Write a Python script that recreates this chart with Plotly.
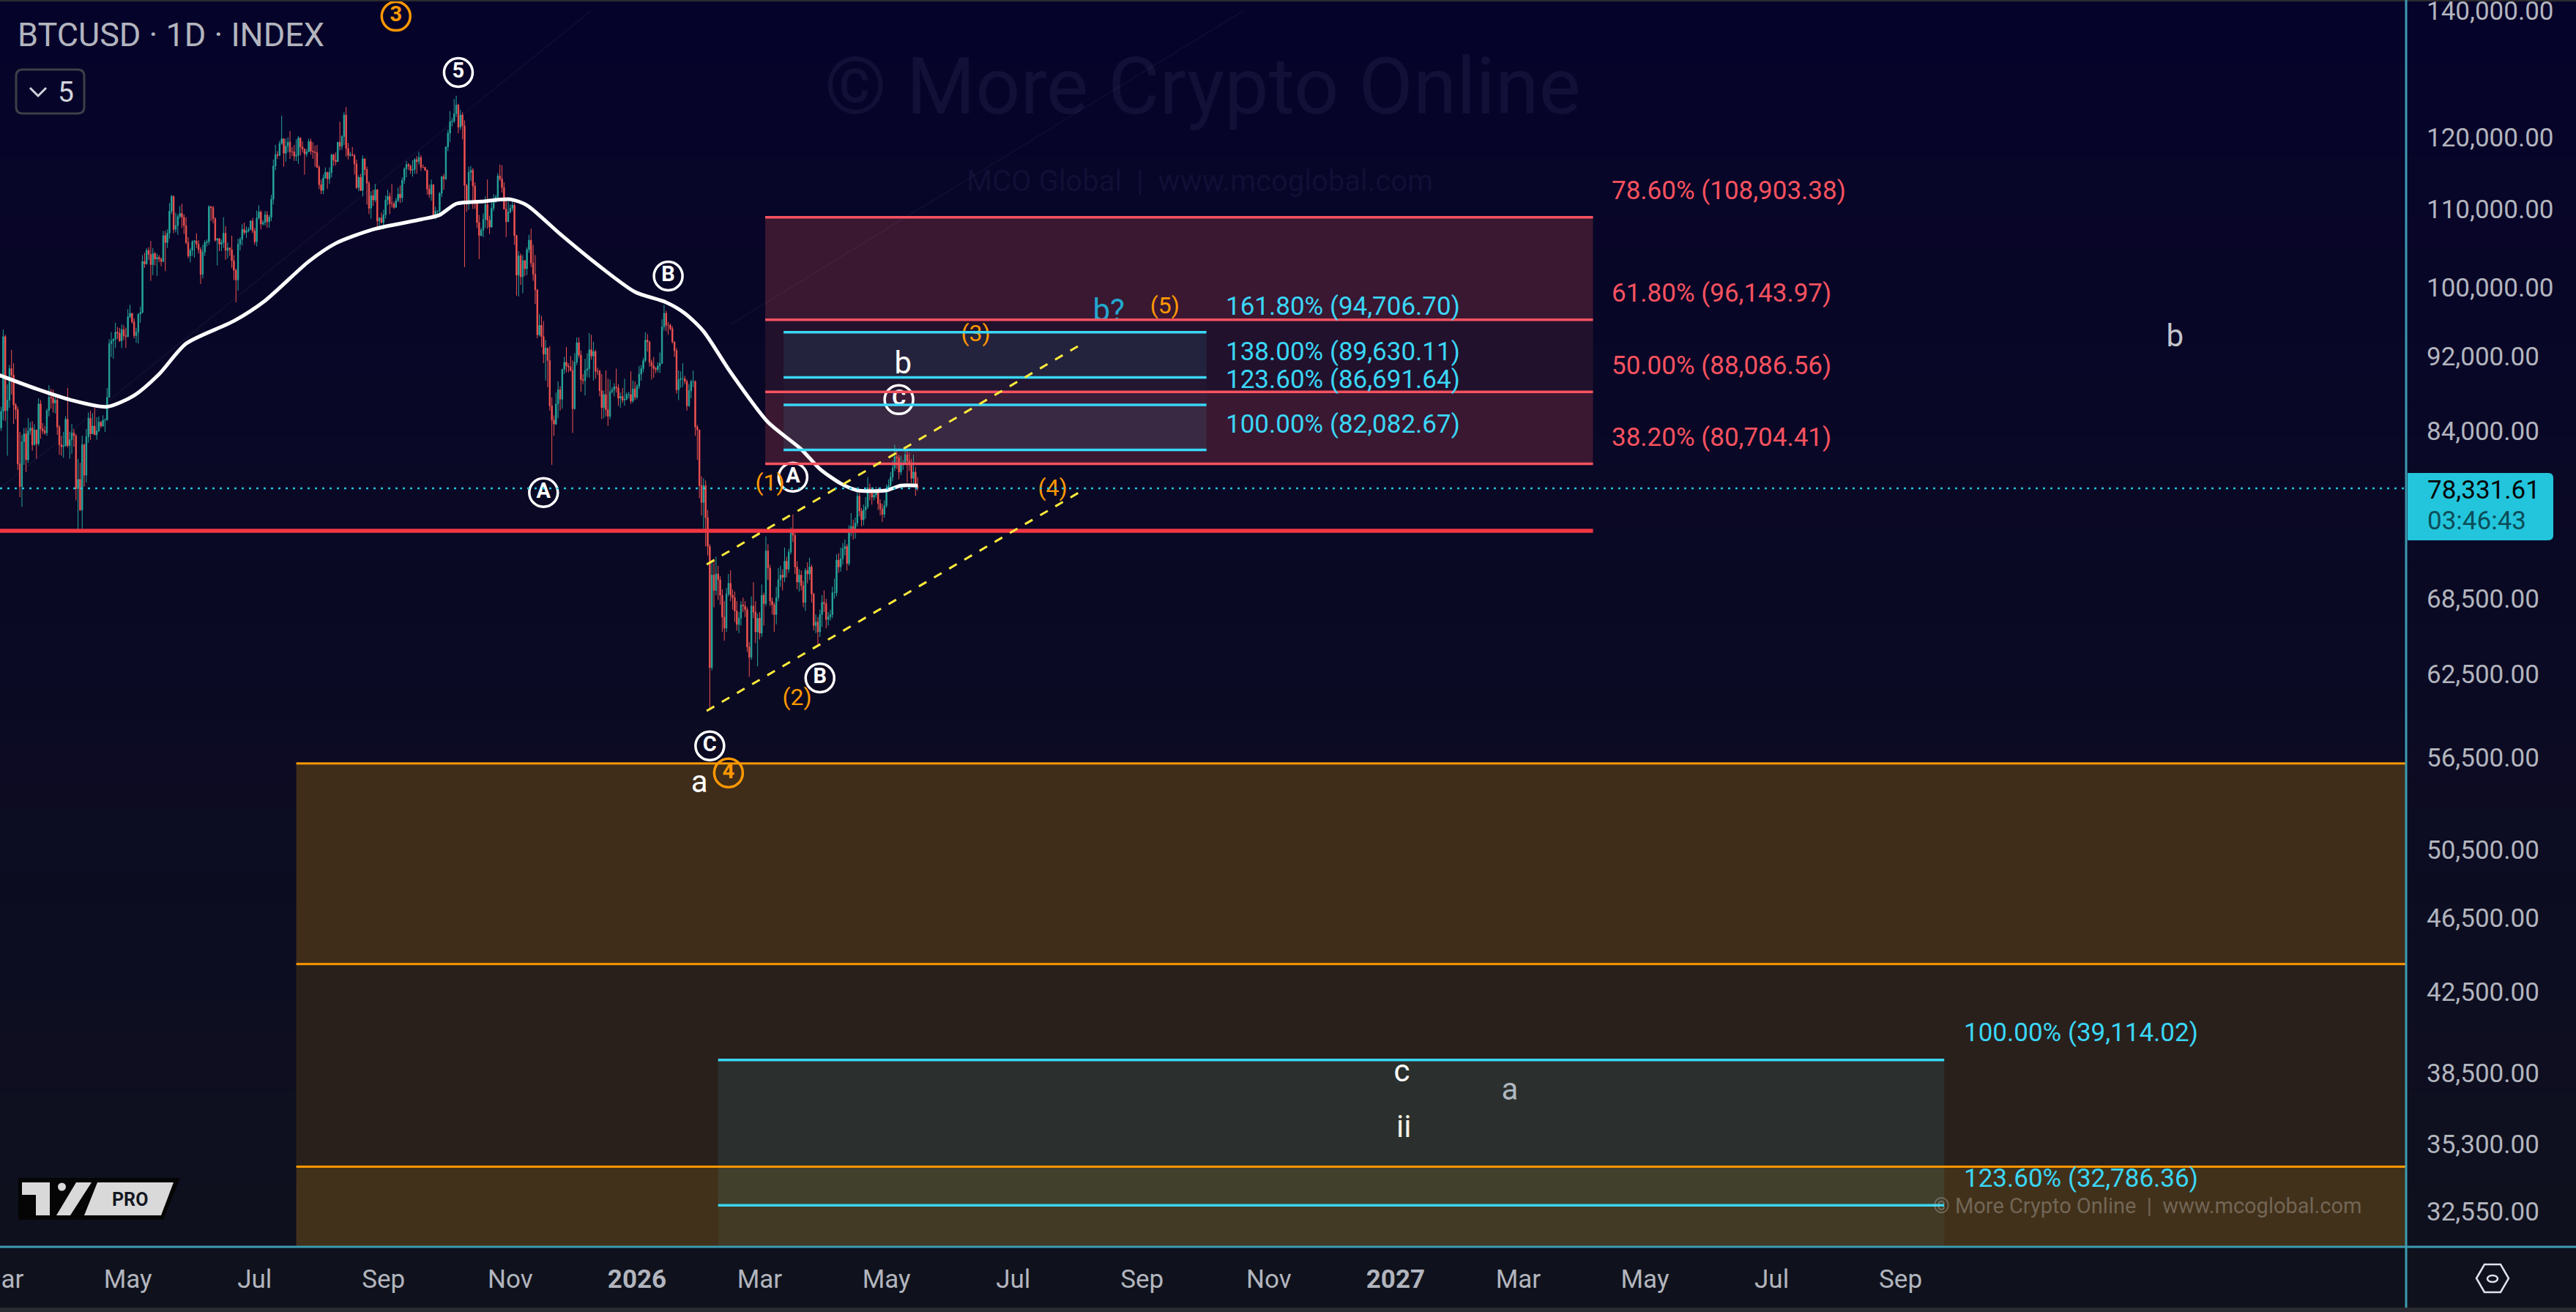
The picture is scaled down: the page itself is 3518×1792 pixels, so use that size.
import math
import pandas as pd
import plotly.graph_objects as go

FIG_W, FIG_H = 3518, 1792
PLOT_W, PLOT_H = 3286, 1703
FONT = "Roboto"

# ------------------------------------------------------------------ data
candle_start = "2025-02-27"
first_open_k = 84.7
close_k = [
    84.4, 84.3,
    86.0, 94.2, 86.1, 87.2, 90.6, 89.9, 86.7, 86.2, 80.7, 78.5, 82.9, 83.7, 81.1, 84.0, 84.3, 82.6, 84.1, 82.7, 86.8, 84.2, 84.0, 83.8, 86.1, 87.5, 87.4, 86.9, 87.2, 84.4, 82.6, 82.4, 82.5,
    85.2, 82.5, 83.1, 83.8, 83.5, 78.3, 79.2, 76.3, 82.6, 79.6, 83.4, 85.3, 83.7, 84.5, 83.6, 84.0, 84.9, 84.5, 85.1, 85.1, 87.5, 93.4, 93.7, 93.9, 94.7, 94.6, 93.7, 95.0, 94.3, 94.2,
    96.5, 96.9, 95.9, 94.3, 94.7, 96.8, 97.0, 103.2, 102.9, 104.6, 104.1, 102.8, 104.2, 103.5, 103.7, 103.5, 103.2, 106.5, 105.6, 106.8, 109.7, 111.7, 107.3, 107.8, 109.0, 109.4, 108.9, 107.8, 105.6, 103.9, 104.6,
    105.7, 105.8, 105.4, 104.7, 101.6, 104.4, 105.6, 105.7, 110.3, 110.2, 108.7, 105.9, 106.1, 105.4, 105.6, 106.8, 104.6, 104.9, 104.7, 103.3, 102.1, 100.9, 105.4, 106.0, 107.3, 106.9, 107.1, 107.3, 108.4, 107.1,
    105.7, 108.8, 109.6, 108.0, 108.2, 109.2, 108.3, 108.9, 111.3, 115.9, 117.5, 117.4, 119.1, 119.8, 117.7, 118.7, 119.3, 117.9, 117.9, 117.3, 117.4, 119.9, 118.6, 118.3, 117.6, 117.9, 119.4, 118.0, 117.9, 117.8, 115.7,
    113.3, 112.5, 114.2, 115.0, 114.1, 115.0, 117.5, 116.7, 116.5, 119.3, 118.7, 120.1, 123.3, 118.4, 117.4, 117.5, 117.4, 116.2, 112.9, 114.3, 112.5, 116.9, 115.4, 113.5, 110.1, 111.8, 111.2, 112.6, 108.4, 108.8, 108.2,
    109.2, 111.2, 111.7, 110.7, 110.7, 110.2, 111.1, 112.0, 111.5, 113.9, 115.5, 116.1, 115.9, 115.3, 115.4, 116.8, 116.5, 117.1, 115.7, 115.7, 115.3, 112.7, 112.0, 113.3, 109.0, 109.7, 109.7, 112.1, 114.4, 114.1,
    118.6, 120.6, 122.3, 122.4, 123.5, 124.8, 121.5, 123.3, 121.7, 113.2, 110.7, 115.0, 115.3, 113.1, 110.8, 108.2, 106.5, 107.2, 108.6, 110.6, 108.5, 107.6, 110.1, 111.0, 111.6, 114.5, 114.1, 112.9, 110.0, 108.3, 109.6,
    110.1, 110.5, 106.5, 101.5, 103.9, 101.3, 103.3, 102.3, 104.7, 105.9, 103.0, 101.6, 99.7, 94.4, 95.5, 94.2, 92.2, 92.9, 91.5, 86.6, 85.1, 84.7, 86.8, 88.3, 87.3, 90.5, 91.3, 90.9, 90.8, 90.4,
    86.3, 91.3, 93.5, 92.1, 89.4, 89.3, 90.4, 90.6, 92.7, 92.0, 92.5, 90.3, 90.3, 88.2, 86.4, 87.8, 86.2, 85.5, 88.1, 88.3, 88.6, 88.5, 87.4, 87.6, 87.2, 87.3, 87.8, 87.8, 87.1, 88.4, 87.5,
    88.7, 90.0, 90.6, 91.5, 93.8, 93.6, 91.3, 90.9, 90.6, 90.5, 90.9, 91.2, 95.3, 96.9, 95.5, 95.5, 95.1, 93.6, 92.6, 88.3, 89.4, 89.5, 89.5, 89.2, 86.6, 88.2, 89.2, 89.2, 84.4, 84.1, 78.6,
    77.0, 78.6, 75.6, 73.0, 63.0, 70.5, 69.2, 70.6, 70.1, 68.8, 67.0, 66.1, 68.9, 69.8, 68.8, 68.6, 67.5, 66.4, 66.9, 68.0, 67.9, 67.6, 64.6, 63.8, 67.9, 67.4, 65.8, 66.9,
    65.7, 68.8, 68.1, 72.6, 71.1, 68.3, 68.0, 67.2, 68.6, 70.1, 70.5, 70.3, 71.7, 71.0, 72.5, 74.3, 74.0, 71.2, 69.9, 70.5, 69.6, 68.2, 70.9, 70.6, 71.2, 68.9, 66.3, 66.6, 65.8, 67.2, 68.2,
    68.1, 66.8, 67.0, 67.2, 69.0, 69.0, 71.8, 71.2, 71.9, 72.8, 73.0, 71.5, 74.5, 74.8, 74.3, 75.1, 77.6, 76.2, 75.4, 76.3, 76.6, 78.4, 78.0, 77.5, 77.7, 78.1, 76.9, 76.4, 75.9, 76.7,
    78.3, 78.6, 79.4, 80.3, 81.4, 81.3, 79.9, 80.6, 80.8, 81.6, 81.0, 80.6, 79.3, 79.9, 78.6, 78.33161,
]
high_k = [
    87.0, 85.1,
    86.5, 95.0, 94.4, 88.9, 91.0, 92.7, 91.2, 86.9, 86.5, 83.9, 83.6, 84.3, 84.3, 85.3, 84.9, 85.0, 84.7, 84.1, 87.4, 87.2, 84.8, 84.5, 86.3, 88.8, 88.4, 88.3, 87.8, 87.5, 84.6, 83.5, 83.9,
    85.5, 88.5, 83.9, 84.7, 84.2, 83.7, 81.2, 80.8, 83.5, 82.7, 84.2, 85.9, 86.1, 85.8, 86.4, 85.4, 85.5, 85.0, 85.6, 85.3, 88.5, 93.9, 94.7, 94.0, 95.8, 95.3, 95.2, 95.6, 95.5, 95.2,
    97.4, 97.9, 96.9, 96.3, 95.2, 96.9, 97.7, 104.0, 104.3, 104.9, 105.0, 105.8, 104.9, 104.4, 104.2, 104.0, 103.7, 107.1, 107.1, 107.3, 110.8, 111.9, 111.8, 109.5, 109.3, 110.4, 110.7, 109.3, 108.9, 106.3, 104.9,
    105.9, 105.9, 106.8, 105.9, 105.0, 105.3, 105.9, 106.0, 110.5, 110.4, 110.4, 108.9, 106.2, 106.2, 106.0, 108.9, 107.7, 105.6, 105.0, 106.5, 104.0, 102.3, 106.1, 106.3, 108.0, 108.2, 107.7, 107.6, 108.5, 108.8,
    107.5, 109.8, 110.5, 109.8, 108.5, 109.7, 109.7, 109.2, 111.9, 116.8, 118.9, 118.0, 119.5, 123.2, 119.8, 119.8, 120.0, 120.9, 118.6, 118.9, 119.7, 120.2, 120.0, 119.4, 118.4, 118.3, 119.8, 119.8, 119.3, 118.8, 118.9,
    116.0, 114.0, 114.7, 115.7, 115.1, 115.7, 117.6, 117.6, 117.8, 119.3, 122.3, 120.3, 123.7, 124.5, 119.2, 117.9, 118.6, 117.6, 116.8, 114.6, 114.8, 117.4, 117.0, 115.8, 113.8, 112.4, 112.6, 113.4, 112.7, 108.9, 109.5,
    109.9, 111.8, 112.6, 112.2, 113.4, 111.0, 111.5, 112.9, 113.2, 114.3, 115.7, 116.6, 116.3, 116.1, 116.7, 117.0, 117.3, 117.9, 117.4, 116.1, 115.8, 115.4, 113.3, 114.0, 113.3, 110.3, 109.8, 112.3, 114.5, 114.8,
    118.7, 121.1, 123.9, 122.9, 125.7, 126.2, 125.0, 124.1, 123.7, 122.5, 113.4, 115.8, 115.9, 115.6, 113.6, 111.1, 109.2, 107.5, 109.4, 111.7, 114.0, 109.1, 111.3, 112.0, 111.9, 114.9, 116.1, 116.0, 113.6, 111.5, 111.2,
    110.6, 111.2, 110.8, 106.6, 104.5, 104.2, 104.0, 103.4, 105.0, 106.6, 107.4, 105.3, 104.0, 99.8, 96.8, 96.6, 96.0, 93.8, 92.9, 93.1, 87.5, 85.6, 88.0, 89.2, 88.7, 90.6, 91.9, 93.0, 91.2, 92.0,
    91.5, 92.3, 94.1, 94.1, 92.6, 90.0, 91.7, 92.3, 94.6, 94.4, 93.6, 92.7, 90.7, 90.5, 90.0, 88.2, 90.4, 89.5, 89.4, 88.6, 89.0, 90.6, 88.9, 88.0, 88.5, 89.5, 88.0, 88.1, 90.3, 89.3, 89.2,
    88.9, 90.9, 91.0, 91.8, 94.7, 94.5, 93.7, 91.6, 91.9, 90.8, 91.3, 92.4, 96.2, 97.9, 97.2, 95.9, 95.7, 95.4, 93.5, 92.9, 90.4, 90.3, 91.2, 89.8, 89.4, 88.9, 89.4, 90.4, 89.3, 84.6, 84.0,
    79.5, 79.3, 79.1, 76.3, 73.2, 71.6, 71.9, 72.1, 71.3, 70.4, 69.3, 68.3, 69.4, 70.6, 70.9, 69.3, 69.1, 68.3, 67.4, 68.3, 68.6, 68.3, 67.8, 65.0, 68.7, 69.9, 68.3, 67.3,
    67.4, 69.7, 69.0, 73.9, 73.2, 71.4, 68.6, 68.2, 69.5, 71.1, 71.3, 71.0, 72.9, 72.1, 72.8, 74.7, 75.9, 74.2, 71.7, 71.0, 70.9, 70.0, 71.1, 71.6, 72.0, 71.4, 69.0, 67.2, 67.0, 67.6, 68.8,
    69.2, 68.5, 67.4, 67.6, 69.5, 70.2, 72.3, 72.4, 72.9, 73.3, 73.6, 73.2, 74.9, 76.0, 75.4, 75.6, 78.4, 77.9, 76.5, 76.8, 77.5, 79.4, 78.8, 78.3, 78.0, 78.5, 78.4, 77.3, 76.9, 77.2,
    78.7, 79.2, 79.9, 81.0, 82.6, 82.1, 81.6, 81.5, 81.1, 82.3, 82.0, 81.8, 81.2, 81.6, 80.4, 79.4,
]
low_k = [
    82.7, 78.2,
    84.0, 85.1, 85.0, 81.5, 86.4, 87.8, 84.7, 85.2, 80.1, 77.5, 76.6, 80.6, 79.9, 80.8, 83.6, 82.0, 82.5, 81.2, 82.5, 83.2, 83.7, 83.6, 83.5, 85.5, 86.3, 85.9, 85.8, 83.6, 81.6, 81.5, 81.3,
    82.4, 82.3, 81.2, 81.7, 82.4, 77.2, 74.4, 76.2, 74.6, 78.5, 78.9, 82.8, 83.1, 83.7, 83.6, 83.1, 83.9, 84.3, 84.4, 83.9, 85.1, 87.5, 91.9, 91.7, 92.9, 93.9, 93.6, 92.9, 93.8, 92.9,
    94.1, 96.3, 95.7, 94.0, 93.5, 93.4, 95.8, 96.9, 102.4, 102.8, 103.4, 100.8, 101.5, 102.7, 101.4, 103.1, 102.6, 103.1, 102.0, 104.9, 106.1, 109.3, 106.8, 106.9, 106.6, 108.7, 107.5, 106.7, 105.4, 103.6, 103.1,
    103.9, 103.7, 104.9, 104.2, 100.4, 101.1, 103.9, 105.1, 105.3, 108.4, 108.1, 105.7, 102.7, 104.5, 104.5, 104.9, 103.4, 103.6, 103.9, 102.4, 100.9, 98.2, 99.6, 104.6, 105.2, 106.6, 106.2, 106.9, 107.2, 106.8,
    105.3, 105.1, 108.6, 107.3, 107.8, 107.8, 107.5, 107.5, 108.4, 110.6, 115.3, 116.9, 117.3, 118.9, 115.8, 116.5, 117.8, 116.9, 117.3, 116.6, 116.6, 116.2, 117.4, 117.8, 114.7, 117.2, 117.9, 117.5, 116.9, 115.8, 115.6,
    112.7, 112.0, 112.0, 114.1, 112.7, 113.4, 114.3, 115.9, 116.0, 116.5, 118.1, 118.2, 118.9, 117.2, 116.8, 117.2, 117.3, 114.7, 112.7, 112.4, 112.4, 111.7, 114.6, 110.6, 109.3, 108.7, 110.4, 110.9, 107.5, 107.4, 108.1,
    107.3, 108.7, 110.5, 109.3, 110.2, 110.0, 110.2, 110.9, 110.8, 110.9, 113.4, 114.3, 115.3, 114.8, 114.4, 114.8, 114.8, 116.1, 115.2, 115.6, 115.2, 111.9, 111.5, 111.1, 108.7, 108.6, 109.1, 109.3, 111.6, 112.6,
    113.9, 118.0, 119.3, 121.6, 122.1, 123.0, 120.6, 121.1, 119.7, 102.5, 109.6, 109.9, 113.8, 110.0, 110.0, 107.5, 103.5, 106.4, 106.3, 107.5, 107.4, 106.7, 107.5, 109.7, 110.8, 111.3, 113.8, 112.2, 109.9, 106.3, 108.6,
    109.4, 109.7, 105.3, 99.0, 98.9, 100.3, 99.3, 101.4, 101.5, 104.3, 102.5, 100.8, 98.0, 94.0, 94.2, 93.0, 91.2, 89.3, 88.6, 86.1, 80.6, 83.5, 84.6, 85.3, 86.1, 86.3, 90.0, 90.2, 90.2, 90.3,
    83.8, 86.2, 91.0, 91.8, 88.1, 88.9, 87.7, 89.7, 89.6, 91.6, 89.3, 89.5, 89.9, 87.6, 85.2, 85.3, 85.5, 84.5, 85.2, 87.9, 87.6, 88.0, 86.6, 86.4, 86.9, 86.6, 87.2, 87.4, 86.8, 86.9, 87.2,
    87.3, 88.4, 89.3, 90.2, 91.3, 92.5, 90.8, 89.4, 89.6, 90.1, 90.2, 90.1, 91.1, 94.9, 94.8, 94.4, 94.9, 93.4, 91.9, 87.9, 87.2, 88.5, 88.6, 88.9, 86.1, 86.5, 87.4, 88.6, 83.5, 81.1, 77.4,
    75.8, 74.6, 73.0, 72.2, 60.0, 62.8, 67.8, 68.8, 68.4, 68.0, 65.8, 65.1, 65.8, 68.7, 68.3, 67.6, 66.6, 65.9, 65.7, 66.3, 67.4, 67.0, 64.2, 62.3, 63.6, 66.9, 64.9, 63.1,
    65.2, 65.4, 66.3, 67.9, 70.1, 67.9, 67.2, 65.8, 66.4, 68.3, 69.5, 69.2, 69.9, 70.3, 70.7, 72.3, 73.4, 70.6, 69.3, 69.1, 69.2, 67.8, 67.5, 69.8, 70.1, 68.2, 65.9, 65.7, 64.7, 65.4, 66.2,
    67.4, 66.1, 66.3, 66.7, 66.9, 68.5, 68.7, 70.7, 70.8, 71.4, 72.2, 70.9, 71.3, 73.9, 73.6, 73.7, 74.8, 75.7, 74.8, 74.9, 75.5, 76.4, 77.2, 76.8, 77.2, 77.4, 76.3, 75.8, 75.2, 75.6,
    76.5, 78.0, 78.3, 79.0, 80.0, 80.2, 79.2, 79.6, 80.1, 80.6, 78.9, 80.0, 78.8, 78.5, 77.6, 78.1,
]
countdown_text = "03:46:43"

# moving-average line
ma_dates = ["2025-02-28", "2025-03-18", "2025-04-03", "2025-04-21", "2025-05-04", "2025-05-16",
            "2025-05-29", "2025-06-21", "2025-07-06", "2025-07-27", "2025-08-09", "2025-08-27",
            "2025-09-19", "2025-09-28", "2025-10-06", "2025-10-18", "2025-11-01", "2025-11-09",
            "2025-11-25", "2025-12-13", "2025-12-31", "2026-01-15", "2026-01-24", "2026-02-02",
            "2026-02-15", "2026-03-05", "2026-03-21", "2026-03-30", "2026-04-09", "2026-04-17",
            "2026-05-01", "2026-05-08", "2026-05-16"]
ma_k = [89.9, 88.4, 87.25, 86.5, 87.7, 90.0, 93.4, 96.0, 98.4, 103.2, 105.5, 107.3, 108.6, 109.2,
        110.7, 111.0, 111.3, 110.5, 106.7, 102.8, 99.45, 98.2, 96.9, 94.8, 90.2, 84.9, 82.15, 80.2,
        78.8, 78.15, 78.15, 78.6, 78.6]

# axes
x_range = ["2025-02-28 10:48", "2028-05-01 06:30"]
price_min, price_max = 31170, 141790
price_ticks = [140000, 120000, 110000, 100000, 92000, 84000, 68500, 62500, 56500,
               50500, 46500, 42500, 38500, 35300, 32550]
month_ticks = ["2025-03-01", "2025-05-01", "2025-07-01", "2025-09-01", "2025-11-01", "2026-01-01",
               "2026-03-01", "2026-05-01", "2026-07-01", "2026-09-01", "2026-11-01", "2027-01-01",
               "2027-03-01", "2027-05-01", "2027-07-01", "2027-09-01"]
month_labels = ["Mar", "May", "Jul", "Sep", "Nov", "<b>2026</b>", "Mar", "May", "Jul", "Sep", "Nov",
                "<b>2027</b>", "Mar", "May", "Jul", "Sep"]

# drawings
support_level = 74400
support_end = "2027-04-06"

fib_ret_levels = [108903.38, 96143.97, 88086.56, 80704.41]
fib_ret_names = ["78.60%", "61.80%", "50.00%", "38.20%"]
fib_ret_span = ["2026-03-03 16:00", "2027-04-06"]

fib_ext_levels = [94706.70, 89630.11, 86691.64, 82082.67]
fib_ext_names = ["161.80%", "138.00%", "123.60%", "100.00%"]
fib_ext_span = ["2026-03-12 12:00", "2026-10-02"]

low_ext_levels = [39114.02, 32786.36]
low_ext_names = ["100.00%", "123.60%"]
low_ext_span = ["2026-02-09", "2027-09-22"]

orange_levels = [56080, 43950, 34360]
orange_start = "2025-07-21"

channel_upper_x = ["2026-02-03 12:00", "2026-08-04"]
channel_upper_y = [71420, 93500]
channel_lower_x = ["2026-02-03 12:00", "2026-08-05"]
channel_lower_y = [59780, 78330]

faint_lines = [(["2025-02-28", "2025-12-10"], [78260, 140000]),
               (["2026-02-15", "2026-10-20"], [95610, 140000])]

# wave labels
circ_white_text = ["5", "A", "B", "C", "A", "B", "C"]
circ_white_x = ["2025-10-07", "2025-11-17", "2026-01-16", "2026-02-05", "2026-03-17", "2026-03-30", "2026-05-07"]
circ_white_y = [129840, 77940, 101390, 57290, 79410, 62220, 87250]
circ_orange_text = ["3", "4"]
circ_orange_x = ["2025-09-07", "2026-02-14"]
circ_orange_y = [139030, 55440]
paren_text = ["(1)", "(2)", "(3)", "(4)", "(5)"]
paren_x = ["2026-03-06", "2026-03-19", "2026-06-13", "2026-07-20", "2026-09-12"]
paren_y = [78710, 60630, 94340, 78220, 97590]
letter_text = ["b", "b?", "a", "b", "c", "a", "ii"]
letter_x = ["2026-05-09", "2026-08-16", "2026-01-31", "2028-01-11", "2027-01-04", "2027-02-25", "2027-01-05"]
letter_y = [90890, 96960, 54680, 94000, 38460, 37610, 35940]
letter_color = ["#ffffff", "#22a9d0", "#ffffff", "#c3c5cc", "#ffffff", "#b0b8c0", "#f4f1e0"]

# ------------------------------------------------------------------ build
if not (len(close_k) == len(high_k) == len(low_k)):
    raise ValueError("length mismatch %d %d %d" % (len(close_k), len(high_k), len(low_k)))

dates = pd.date_range(candle_start, periods=len(close_k), freq="D")
open_k = [first_open_k] + close_k[:-1]
opens = [v * 1000 for v in open_k]
closes = [v * 1000 for v in close_k]
highs = [max(h, o, c) * 1000 for h, o, c in zip(high_k, open_k, close_k)]
lows = [min(l, o, c) * 1000 for l, o, c in zip(low_k, open_k, close_k)]
last_price = closes[-1]


def P(x, y):
    return x / PLOT_W, 1 - y / PLOT_H


def paper_path(pts, close=True):
    s = ""
    for i, (x, y) in enumerate(pts):
        px, py = P(x, y)
        s += ("M" if i == 0 else " L") + " %.6f,%.6f" % (px, py)
    return s + (" Z" if close else "")


def rounded_rect(x0, y0, x1, y1, r, rl=True, rr=True):
    def p(x, y):
        px, py = P(x, y)
        return "%.6f,%.6f" % (px, py)
    rL = r if rl else 0
    rR = r if rr else 0
    s = "M " + p(x0 + rL, y0)
    s += " L " + p(x1 - rR, y0)
    if rR:
        s += " Q " + p(x1, y0) + " " + p(x1, y0 + rR)
    s += " L " + p(x1, y1 - rR)
    if rR:
        s += " Q " + p(x1, y1) + " " + p(x1 - rR, y1)
    s += " L " + p(x0 + rL, y1)
    if rL:
        s += " Q " + p(x0, y1) + " " + p(x0, y1 - rL)
    s += " L " + p(x0, y0 + rL)
    if rL:
        s += " Q " + p(x0, y0) + " " + p(x0 + rL, y0)
    return s + " Z"


shapes = []
XR = FIG_W / PLOT_W

# background gradient
top_c = (6, 3, 42)
bot_c = (15, 16, 30)
n = 40
for i in range(n):
    t = (i + 0.5) / n
    c = tuple(int(round(a + (b - a) * t)) for a, b in zip(top_c, bot_c))
    shapes.append(dict(type="rect", xref="paper", yref="paper", x0=0, x1=XR,
                       y0=1 - (i + 1) / n - 0.002, y1=1 - i / n, layer="below",
                       line=dict(width=0), fillcolor="rgb(%d,%d,%d)" % c))

far_right = "2028-06-30"
bottom_price = 25000

# orange zone
orange_fills = ["#3f2d1a", "#2a201b", "#42311a"]
bounds = orange_levels + [bottom_price]
for i in range(3):
    shapes.append(dict(type="rect", xref="x", yref="y", x0=orange_start, x1=far_right,
                       y0=bounds[i + 1], y1=bounds[i], layer="below", line=dict(width=0),
                       fillcolor=orange_fills[i]))

# red fib retracement fills
ret_fills = ["#3a1832", "#22112c", "#3a1832"]
for i in range(3):
    shapes.append(dict(type="rect", xref="x", yref="y", x0=fib_ret_span[0], x1=fib_ret_span[1],
                       y0=fib_ret_levels[i + 1], y1=fib_ret_levels[i], layer="below",
                       line=dict(width=0), fillcolor=ret_fills[i]))

# blue extension fills
ext_alpha = [0.10, 0.03, 0.10]
for i in range(3):
    shapes.append(dict(type="rect", xref="x", yref="y", x0=fib_ext_span[0], x1=fib_ext_span[1],
                       y0=fib_ext_levels[i + 1], y1=fib_ext_levels[i], layer="below",
                       line=dict(width=0), fillcolor="rgba(60,200,220,%.2f)" % ext_alpha[i]))
shapes.append(dict(type="rect", xref="x", yref="y", x0=low_ext_span[0], x1=low_ext_span[1],
                   y0=low_ext_levels[1], y1=low_ext_levels[0], layer="below",
                   line=dict(width=0), fillcolor="rgba(60,200,220,0.10)"))
shapes.append(dict(type="rect", xref="x", yref="y", x0=low_ext_span[0], x1=low_ext_span[1],
                   y0=bottom_price, y1=low_ext_levels[1], layer="below",
                   line=dict(width=0), fillcolor="rgba(60,200,220,0.06)"))

# faint trend lines
for xs, ys in faint_lines:
    shapes.append(dict(type="line", xref="x", yref="y", x0=xs[0], x1=xs[1], y0=ys[0], y1=ys[1],
                       layer="below", line=dict(color="rgba(170,170,230,0.05)", width=2)))

# level lines
for lv in orange_levels:
    shapes.append(dict(type="line", xref="x", yref="y", x0=orange_start, x1=far_right, y0=lv, y1=lv,
                       layer="above", line=dict(color="#ff9800", width=3)))
for lv in fib_ret_levels:
    shapes.append(dict(type="line", xref="x", yref="y", x0=fib_ret_span[0], x1=fib_ret_span[1],
                       y0=lv, y1=lv, layer="above", line=dict(color="#f7525f", width=3.5)))
for lv in fib_ext_levels:
    shapes.append(dict(type="line", xref="x", yref="y", x0=fib_ext_span[0], x1=fib_ext_span[1],
                       y0=lv, y1=lv, layer="above", line=dict(color="#3ad7f7", width=3.5)))
for lv in low_ext_levels:
    shapes.append(dict(type="line", xref="x", yref="y", x0=low_ext_span[0], x1=low_ext_span[1],
                       y0=lv, y1=lv, layer="above", line=dict(color="#3ad7f7", width=3.5)))
shapes.append(dict(type="line", xref="x", yref="y", x0=x_range[0], x1=support_end,
                   y0=support_level, y1=support_level, layer="above",
                   line=dict(color="#f23645", width=5.5)))
# channel
for xs, ys in [(channel_upper_x, channel_upper_y), (channel_lower_x, channel_lower_y)]:
    shapes.append(dict(type="line", xref="x", yref="y", x0=xs[0], x1=xs[1], y0=ys[0], y1=ys[1],
                       layer="above", line=dict(color="#ffeb3b", width=3, dash="12px,12px")))
# last price dotted line
shapes.append(dict(type="line", xref="paper", yref="y", x0=0, x1=1, y0=last_price, y1=last_price,
                   layer="above", line=dict(color="#22c5dc", width=2.5, dash="3px,7px")))

# chrome: axis lines, borders
shapes.append(dict(type="rect", xref="paper", yref="paper", x0=0, x1=XR, y0=P(0, 1792)[1],
                   y1=P(0, 1786)[1], line=dict(width=0), fillcolor="#2a2b30", layer="above"))
shapes.append(dict(type="rect", xref="paper", yref="paper", x0=0, x1=XR, y0=P(0, 2)[1],
                   y1=1.0, line=dict(width=0), fillcolor="#2b2b2e", layer="above"))
shapes.append(dict(type="line", xref="paper", yref="paper", x0=0, x1=XR, y0=0, y1=0,
                   line=dict(color="#3c9cb2", width=3), layer="above"))
shapes.append(dict(type="line", xref="paper", yref="paper", x0=1, x1=1, y0=P(0, 1786)[1], y1=1,
                   line=dict(color="#3c9cb2", width=3), layer="above"))
# price label box on the axis
shapes.append(dict(type="path", xref="paper", yref="paper",
                   path=rounded_rect(3288, 646, 3487, 738, 7, rl=False, rr=True),
                   fillcolor="#22c5dc", line=dict(width=0), layer="above"))
# settings icon (hexagon)
shapes.append(dict(type="path", xref="paper", yref="paper",
                   path=paper_path([(3382, 1746), (3393, 1727), (3415, 1727), (3426, 1746), (3415, 1765), (3393, 1765)]),
                   line=dict(color="#e0e3eb", width=2.5), layer="above"))
ex0, ey0 = P(3397, 1742)
ex1, ey1 = P(3411, 1751)
shapes.append(dict(type="circle", xref="paper", yref="paper", x0=ex0, x1=ex1, y0=ey1, y1=ey0,
                   line=dict(color="#e0e3eb", width=2.5), layer="above"))
# legend toggle box
shapes.append(dict(type="path", xref="paper", yref="paper", path=rounded_rect(22, 95, 115, 155, 9),
                   line=dict(color="#3d3f47", width=3), layer="above"))
shapes.append(dict(type="path", xref="paper", yref="paper",
                   path=paper_path([(41, 120), (52, 131), (63, 120)], close=False),
                   line=dict(color="#d1d4dc", width=3), layer="above"))
# TradingView logo
shapes.append(dict(type="path", xref="paper", yref="paper",
                   path=paper_path([(25, 1609), (246, 1609), (223, 1666), (25, 1666)]),
                   fillcolor="#050505", line=dict(width=0), layer="above"))
logo_grey = "#d9d9d9"
shapes.append(dict(type="path", xref="paper", yref="paper",
                   path=paper_path([(30, 1615), (68, 1615), (68, 1660), (49, 1660), (49, 1632), (30, 1632)]),
                   fillcolor=logo_grey, line=dict(width=0), layer="above"))
d0x, d0y = P(79, 1615.5)
d1x, d1y = P(90, 1626.5)
shapes.append(dict(type="circle", xref="paper", yref="paper", x0=d0x, x1=d1x, y0=d1y, y1=d0y,
                   fillcolor=logo_grey, line=dict(width=0), layer="above"))
shapes.append(dict(type="path", xref="paper", yref="paper",
                   path=paper_path([(77, 1660), (96, 1660), (125, 1615), (104, 1615)]),
                   fillcolor=logo_grey, line=dict(width=0), layer="above"))
shapes.append(dict(type="path", xref="paper", yref="paper",
                   path=paper_path([(133, 1615), (237, 1615), (220, 1660), (115, 1660)]),
                   fillcolor=logo_grey, line=dict(width=0), layer="above"))

# ------------------------------------------------------------------ traces
fig = go.Figure()
fig.add_trace(go.Candlestick(
    x=dates, open=opens, high=highs, low=lows, close=closes,
    increasing=dict(line=dict(color="#26a69a", width=1), fillcolor="#26a69a"),
    decreasing=dict(line=dict(color="#ef5350", width=1), fillcolor="#ef5350"),
    whiskerwidth=0, hoverinfo="skip", showlegend=False))
fig.add_trace(go.Scatter(x=ma_dates, y=[v * 1000 for v in ma_k], mode="lines",
                         line=dict(color="#ffffff", width=5, shape="spline", smoothing=0.7),
                         hoverinfo="skip", showlegend=False))
fig.add_trace(go.Scatter(x=circ_white_x, y=circ_white_y, mode="markers+text", text=circ_white_text,
                         textposition="middle center", cliponaxis=False,
                         marker=dict(symbol="circle", size=39, color="rgba(0,0,0,0)",
                                     line=dict(color="#ffffff", width=3.5)),
                         textfont=dict(family=FONT, size=29, color="#ffffff", weight="bold"),
                         hoverinfo="skip", showlegend=False))
fig.add_trace(go.Scatter(x=circ_orange_x, y=circ_orange_y, mode="markers+text", text=circ_orange_text,
                         textposition="middle center", cliponaxis=False,
                         marker=dict(symbol="circle", size=39, color="rgba(0,0,0,0)",
                                     line=dict(color="#ff9800", width=3.5)),
                         textfont=dict(family=FONT, size=29, color="#ff9800", weight="bold"),
                         hoverinfo="skip", showlegend=False))
fig.add_trace(go.Scatter(x=paren_x, y=paren_y, mode="text", text=paren_text,
                         textposition="middle center",
                         textfont=dict(family=FONT, size=32, color="#ff9800"),
                         hoverinfo="skip", showlegend=False))
fig.add_trace(go.Scatter(x=letter_x, y=letter_y, mode="text", text=letter_text,
                         textposition="middle center",
                         textfont=dict(family=FONT, size=42, color=letter_color),
                         hoverinfo="skip", showlegend=False))

# ------------------------------------------------------------------ annotations
ann = []
for name, lv in zip(fib_ret_names, fib_ret_levels):
    ann.append(dict(x=fib_ret_span[1], y=math.log10(lv), xref="x", yref="y", text="%s (%s)" % (name, format(lv, ",.2f")),
                    showarrow=False, xanchor="left", yanchor="middle", xshift=23, yshift=36,
                    font=dict(family=FONT, size=35, color="#f7525f")))
for name, lv in zip(fib_ext_names, fib_ext_levels):
    ann.append(dict(x=fib_ext_span[1], y=math.log10(lv), xref="x", yref="y", text="%s (%s)" % (name, format(lv, ",.2f")),
                    showarrow=False, xanchor="left", yanchor="middle", xshift=24, yshift=35,
                    font=dict(family=FONT, size=35, color="#3ad7f7")))
for name, lv in zip(low_ext_names, low_ext_levels):
    ann.append(dict(x=low_ext_span[1], y=math.log10(lv), xref="x", yref="y", text="%s (%s)" % (name, format(lv, ",.2f")),
                    showarrow=False, xanchor="left", yanchor="middle", xshift=25, yshift=37,
                    font=dict(family=FONT, size=35, color="#3ad7f7")))


def pann(x, y, text, size, color, xanchor="center", **kw):
    px, py = P(x, y)
    d = dict(x=px, y=py, xref="paper", yref="paper", text=text, showarrow=False,
             xanchor=xanchor, yanchor="middle", font=dict(family=FONT, size=size, color=color))
    d.update(kw)
    return d


ann.append(pann(22, 48, "BTCUSD · 1D · INDEX", 45, "#b2b5be", xanchor="left"))
ann.append(pann(90, 126, "5", 39, "#d1d4dc"))
ann.append(pann(1642, 118, "© More Crypto Online", 108, "rgba(180,180,255,0.075)"))
ann.append(pann(1638, 247, "MCO Global  |  www.mcoglobal.com", 40, "rgba(180,180,255,0.075)"))
ann.append(pann(2932, 1647, "© More Crypto Online  |  www.mcoglobal.com", 29, "rgba(220,220,220,0.32)"))
ann.append(pann(177, 1638, "<b>PRO</b>", 25, "#131722"))
ann.append(pann(3313, 669, format(last_price, ",.2f"), 35, "#050505", xanchor="left"))
ann.append(pann(3313, 711, countdown_text, 35, "#0b4d58", xanchor="left"))

fig.update_layout(
    template="none",
    width=FIG_W, height=FIG_H,
    margin=dict(l=0, r=FIG_W - PLOT_W, t=0, b=FIG_H - PLOT_H, pad=0),
    paper_bgcolor="#0f121c", plot_bgcolor="rgba(0,0,0,0)",
    showlegend=False, hovermode=False, dragmode=False,
    shapes=shapes, annotations=ann,
    xaxis=dict(type="date", range=x_range, rangeslider=dict(visible=False), showgrid=False,
               zeroline=False, showline=False, ticks="", tickvals=month_ticks, ticktext=month_labels,
               tickfont=dict(family=FONT, size=35, color="#b2b5be"), ticklabelstandoff=20,
               ticklabeloverflow="allow", automargin=False, fixedrange=True),
    yaxis=dict(type="log", range=[math.log10(price_min), math.log10(price_max)], side="right",
               showgrid=False, zeroline=False, showline=False, ticks="",
               tickvals=price_ticks, ticktext=[format(v, ",.2f") for v in price_ticks],
               tickfont=dict(family=FONT, size=35, color="#b2b5be"), ticklabelstandoff=27,
               ticklabeloverflow="allow", automargin=False, fixedrange=True),
)

fig.write_html("out.html")
